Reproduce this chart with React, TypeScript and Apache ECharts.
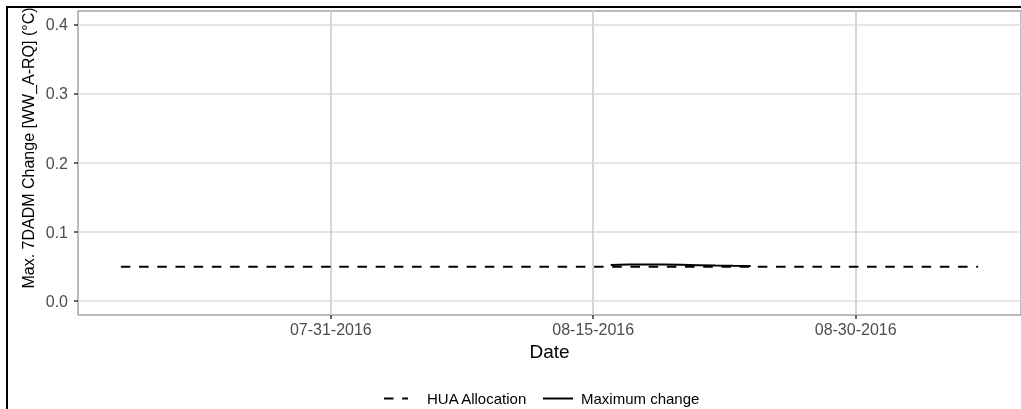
import React, { useEffect, useRef } from "react";
import * as echarts from "echarts";

const huaDates = ["2016-07-19", "2016-09-06"];
const huaValues = [0.05, 0.05];

const maxDates = [
  "2016-08-16", "2016-08-17", "2016-08-18", "2016-08-19", "2016-08-20",
  "2016-08-21", "2016-08-22", "2016-08-23", "2016-08-24",
];
const maxValues = [0.0522, 0.0530, 0.0532, 0.0530, 0.0527, 0.0521, 0.0515, 0.0512, 0.0510];

const xTickDates = ["2016-07-31", "2016-08-15", "2016-08-30"];
const yTicks = [0, 0.1, 0.2, 0.3, 0.4];

const DAY = 86400000;
// dates are placed on a value axis counted in days since 1970-01-01 (UTC)
const dayNum = (d: string) => Date.parse(d + "T00:00:00Z") / DAY;
const pad2 = (n: number) => (n < 10 ? "0" + n : "" + n);
const fmt = (v: number) => {
  const d = new Date(Math.round(v) * DAY);
  return pad2(d.getUTCMonth() + 1) + "-" + pad2(d.getUTCDate()) + "-" + d.getUTCFullYear();
};

export default function App() {
  const ref = useRef<HTMLDivElement>(null);
  useEffect(() => {
    if (!ref.current) return;
    const chart = echarts.init(ref.current, null, { renderer: "svg" });
    const xMin = dayNum(huaDates[0]) - 2.45;
    const xMax = dayNum(huaDates[1]) + 2.45;
    const font = "Liberation Sans, Arial, sans-serif";
    chart.setOption({
      animation: false,
      grid: { left: 78, top: 11, width: 943, height: 304, show: true, borderColor: "#777", borderWidth: 1, backgroundColor: "transparent" },
      xAxis: {
        type: "value",
        min: xMin,
        max: xMax,
        name: "Date",
        nameLocation: "middle",
        nameGap: 22,
        nameTextStyle: { color: "#000", fontSize: 19, fontFamily: font },
        axisLine: { show: false, onZero: false },
        axisTick: { show: true, length: 4, lineStyle: { color: "#333", width: 1.5 }, customValues: xTickDates.map(dayNum) },
        axisLabel: { color: "#4d4d4d", fontSize: 16, fontFamily: font, margin: 6, customValues: xTickDates.map(dayNum), formatter: (v: number) => fmt(v) },
        splitLine: { show: true, lineStyle: { color: "#d6d6d6", width: 2 } },
      },
      yAxis: {
        type: "value",
        min: -0.02,
        max: 0.42,
        axisLine: { show: false, onZero: false },
        axisTick: { show: true, length: 4, lineStyle: { color: "#333", width: 1.5 }, customValues: yTicks },
        axisLabel: { color: "#4d4d4d", fontSize: 16, fontFamily: font, margin: 10, customValues: yTicks, formatter: (v: number) => v.toFixed(1) },
        splitLine: { show: true, lineStyle: { color: "#dcdcdc", width: 1.5 } },
      },
      legend: [
        {
          data: ["HUA Allocation"], left: 378, top: 386, itemWidth: 24, itemHeight: 14,
          itemStyle: { opacity: 0 },
          textStyle: { color: "#000", fontSize: 15, fontFamily: font, padding: [0, 0, 0, 14] },
        },
        {
          data: ["Maximum change"], left: 537, top: 386, itemWidth: 30, itemHeight: 14,
          itemStyle: { opacity: 0 },
          textStyle: { color: "#000", fontSize: 15, fontFamily: font, padding: [0, 0, 0, 3] },
        },
      ],
      graphic: [
        { type: "line", shape: { x1: 7, y1: 6, x2: 7, y2: 409 }, style: { stroke: "#000", lineWidth: 2 } },
        { type: "line", shape: { x1: 6, y1: 7, x2: 1021, y2: 7 }, style: { stroke: "#000", lineWidth: 2 } },
        {
          type: "text", x: 28, y: 148, rotation: Math.PI / 2,
          style: { text: "Max. 7DADM Change [WW_A-RQ] (°C)", fill: "#000", fontSize: 16, fontFamily: font, textAlign: "center", textVerticalAlign: "middle" },
        },
      ],
      series: [
        {
          name: "HUA Allocation", type: "line", symbol: "none",
          data: huaDates.map((d, i) => [dayNum(d), huaValues[i]]),
          lineStyle: { color: "#000", width: 2, type: [9.5, 8.7] },
          itemStyle: { color: "#000", opacity: 0 },
        },
        {
          name: "Maximum change", type: "line", symbol: "none",
          data: maxDates.map((d, i) => [dayNum(d), maxValues[i]]),
          lineStyle: { color: "#000", width: 2, type: "solid" },
          itemStyle: { color: "#000", opacity: 0 },
        },
      ],
    });
    return () => chart.dispose();
  }, []);
  return <div ref={ref} style={{ position: "fixed", left: 0, top: 0, width: 1021, height: 409 }} />;
}
